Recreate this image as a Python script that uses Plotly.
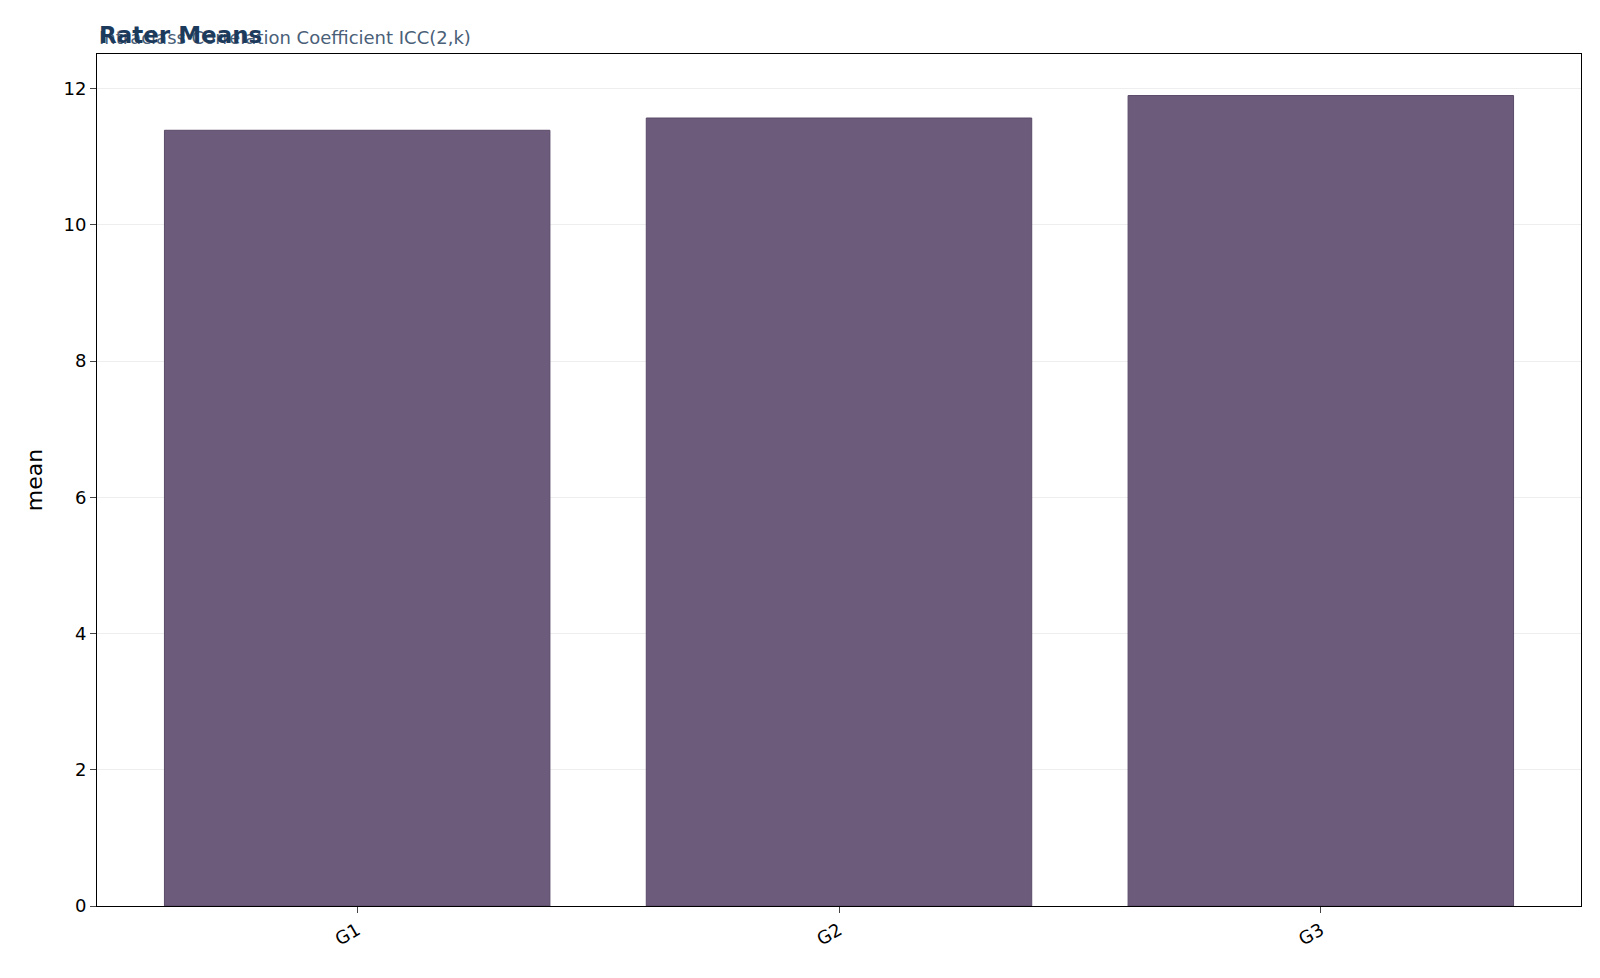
import plotly.graph_objects as go

raters = ["G1", "G2", "G3"]
means = [11.39, 11.57, 11.90]

fig = go.Figure(
    go.Bar(
        x=raters,
        y=means,
        width=0.8,
        marker=dict(color="#6c5b7b", line=dict(color="#5a4a69", width=1)),
    )
)

fig.update_layout(
    width=1600,
    height=978,
    plot_bgcolor="white",
    paper_bgcolor="white",
    font=dict(family="DejaVu Sans", size=18, color="black"),
    margin=dict(l=89, r=27, t=46, b=80),
    showlegend=False,
    annotations=[
        dict(text="Intraclass Correlation Coefficient ICC(2,k)", xref="paper", yref="paper",
             x=0, y=1.0, yshift=4, xanchor="left", yanchor="bottom", showarrow=False,
             font=dict(size=18, color="#4a6078")),
        dict(text="<b>Rater Means</b>", xref="paper", yref="paper",
             x=0, y=1.0, yshift=4, xanchor="left", yanchor="bottom", showarrow=False,
             font=dict(size=23, color="#1c3a5c")),
    ],
)

fig.update_xaxes(range=[-0.54, 2.54], tickangle=-30, ticks="outside", ticklen=6,
                 showline=True, linecolor="black", mirror=True, showgrid=False)
fig.update_yaxes(range=[0, 12.51], dtick=2, ticks="outside", ticklen=6,
                 showline=True, linecolor="black", mirror=True,
                 gridcolor="#eeeeee", title=dict(text="mean", standoff=14), zeroline=False)

fig.write_html("out.html")
